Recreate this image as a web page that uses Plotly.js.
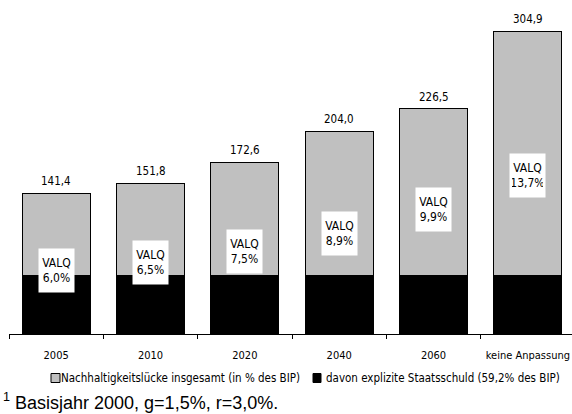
<!DOCTYPE html>
<html>
<head>
<meta charset="utf-8">
<script src="https://cdn.plot.ly/plotly-3.0.1.min.js"></script>
<style>
  html, body { margin: 0; padding: 0; background: #fff; }
  #chart { width: 572px; height: 414px; }
</style>
</head>
<body>
<div id="chart"></div>
<script>
// ---- data ----
const categories = ["2005", "2010", "2020", "2040", "2060", "keine Anpassung"];
const totalGap = [141.4, 151.8, 172.6, 204.0, 226.5, 304.9];
const explicitDebt = [59.2, 59.2, 59.2, 59.2, 59.2, 59.2];
const valq = [6.0, 6.5, 7.5, 8.9, 9.9, 13.7];
const legendGray = "Nachhaltigkeitslücke insgesamt (in % des BIP)";
const legendBlack = "davon explizite Staatsschuld (59,2% des BIP)";
const footnote = "<sup>1</sup> Basisjahr 2000, g=1,5%, r=3,0%.";

// label placement (y in data units for the VALQ boxes)
const valqLabelY = [64, 72, 83, 101, 125, 160];

const fmt = (v, d) => v.toFixed(d).replace(".", ",");
const narrow = "DejaVu Sans Condensed, Liberation Sans Narrow, sans-serif";

const implicitPart = totalGap.map((t, i) => t - explicitDebt[i]);

const traces = [
  {
    type: "bar", x: categories, y: explicitDebt, name: legendBlack,
    marker: { color: "#000000", line: { color: "#000000", width: 1 } },
    width: 0.72, showlegend: false, hoverinfo: "skip"
  },
  {
    type: "bar", x: categories, y: implicitPart, name: legendGray,
    marker: { color: "#c0c0c0", line: { color: "#000000", width: 1 } },
    width: 0.72, showlegend: false, hoverinfo: "skip"
  }
];

const annotations = [];
categories.forEach((c, i) => {
  annotations.push({
    x: i, y: totalGap[i], xref: "x", yref: "y",
    text: fmt(totalGap[i], 1), showarrow: false,
    yanchor: "bottom", yshift: 3,
    font: { family: narrow, size: 11.5, color: "#000" }
  });
  annotations.push({
    x: i, y: valqLabelY[i], xref: "x", yref: "y",
    text: "VALQ<br>" + fmt(valq[i], 1) + "%", showarrow: false,
    bgcolor: "#ffffff", borderpad: 2, width: 31, height: 39,
    font: { family: narrow, size: 12, color: "#000" }
  });
});

// legend (custom)
const legY = -44 / 314;
annotations.push({
  xref: "paper", yref: "paper", x: (302 - 9) / 563, y: legY,
  xanchor: "right", yanchor: "middle", showarrow: false,
  text: legendGray, font: { family: narrow, size: 11.5, color: "#000" }
});
annotations.push({
  xref: "paper", yref: "paper", x: (324 - 9) / 563, y: legY,
  xanchor: "left", yanchor: "middle", showarrow: false,
  text: legendBlack, font: { family: narrow, size: 11.5, color: "#000" }
});
annotations.push({
  xref: "paper", yref: "paper", x: -8 / 563, y: -67 / 314,
  xanchor: "left", yanchor: "middle", showarrow: false,
  text: footnote, font: { family: "Liberation Sans, Arial, sans-serif", size: 18, color: "#000" }
});

const shapes = [
  { type: "rect", xref: "paper", yref: "paper",
    x0: (51 - 9) / 563, x1: (60 - 9) / 563, y0: legY + 4.5 / 314, y1: legY - 4.5 / 314,
    fillcolor: "#c0c0c0", line: { color: "#000", width: 1 } },
  { type: "rect", xref: "paper", yref: "paper",
    x0: (313 - 9) / 563, x1: (321 - 9) / 563, y0: legY + 4.5 / 314, y1: legY - 4.5 / 314,
    fillcolor: "#000", line: { color: "#000", width: 1 } }
];

const layout = {
  width: 572, height: 414,
  margin: { l: 9, r: 0, t: 20, b: 80 },
  paper_bgcolor: "#ffffff", plot_bgcolor: "#ffffff",
  barmode: "stack",
  showlegend: false,
  xaxis: {
    type: "category", range: [-0.5, 5.468],
    showline: true, linecolor: "#000", linewidth: 1,
    ticks: "outside", tickson: "boundaries", ticklen: 4, tickcolor: "#000",
    tickangle: 0, ticklabelstandoff: 11,
    tickfont: { family: narrow, size: 11, color: "#000" },
    showgrid: false, zeroline: false, fixedrange: true
  },
  yaxis: {
    range: [0, 316], visible: false, showgrid: false, zeroline: false, fixedrange: true
  },
  annotations: annotations,
  shapes: shapes
};

Plotly.newPlot("chart", traces, layout, { displayModeBar: false, staticPlot: true });
</script>
</body>
</html>
